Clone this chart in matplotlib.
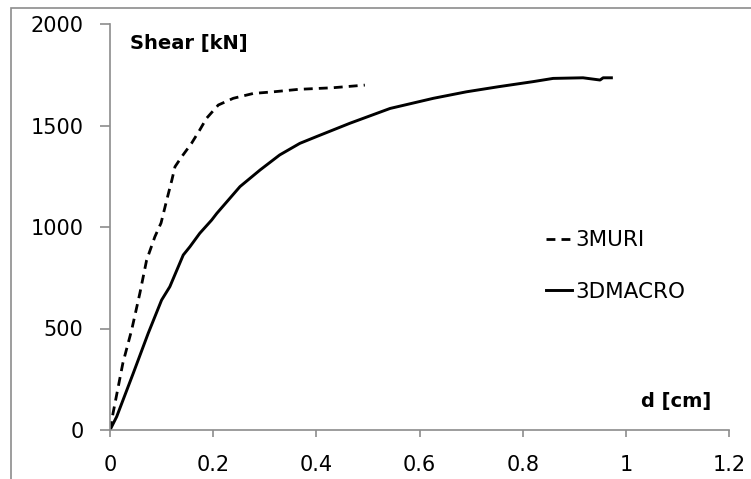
import matplotlib.pyplot as plt
from matplotlib.patches import Rectangle

# 3MURI (dashed)
muri_d = [0, 0.006, 0.025, 0.042, 0.058, 0.071, 0.087, 0.099, 0.11, 0.12, 0.126,
          0.139, 0.158, 0.174, 0.187, 0.21, 0.239, 0.278, 0.317, 0.365, 0.432, 0.494]
muri_v = [0, 84, 330, 493, 675, 837, 952, 1020, 1133, 1232, 1297,
          1346, 1412, 1478, 1535, 1601, 1634, 1658, 1666, 1678, 1686, 1699]

# 3DMACRO (solid)
macro_d = [0, 0.013, 0.045, 0.074, 0.10, 0.116, 0.142, 0.155, 0.174, 0.197, 0.207,
           0.252, 0.291, 0.329, 0.368, 0.40, 0.465, 0.543, 0.627, 0.691, 0.753,
           0.82, 0.859, 0.917, 0.95, 0.956, 0.972]
macro_v = [0, 66, 279, 476, 640, 706, 862, 903, 969, 1034, 1067,
           1199, 1281, 1355, 1412, 1445, 1511, 1584, 1634, 1666, 1691,
           1716, 1732, 1735, 1724, 1735, 1735]

x_ticks = [0, 0.2, 0.4, 0.6, 0.8, 1, 1.2]
x_labels = ['0', '0.2', '0.4', '0.6', '0.8', '1', '1.2']
y_ticks = [0, 500, 1000, 1500, 2000]

plt.rcParams['font.family'] = ['DejaVu Sans']
grey = '#8c8c8c'

fig = plt.figure(figsize=(7.51, 4.79), dpi=100)
# chart area border (cut off at right and bottom)
fig.patches.append(Rectangle((11 / 751, -0.5), 3, 0.5 + (1 - 8 / 479),
                             transform=fig.transFigure, fill=False,
                             edgecolor=grey, linewidth=1.2))
ax = fig.add_axes([110 / 751, 1 - 430 / 479, (729 - 110) / 751, (430 - 24) / 479])

ax.plot(muri_d, muri_v, color='black', linewidth=2.0, linestyle=(0, (3.2, 2.2)),
        label='3MURI')
ax.plot(macro_d, macro_v, color='black', linewidth=2.1, label='3DMACRO')

ax.set_xlim(0, 1.2)
ax.set_ylim(0, 2000)
ax.set_xticks(x_ticks)
ax.set_xticklabels(x_labels)
ax.set_yticks(y_ticks)

for side in ['top', 'right']:
    ax.spines[side].set_visible(False)
for side in ['left', 'bottom']:
    ax.spines[side].set_color(grey)
    ax.spines[side].set_linewidth(1.2)

ax.tick_params(axis='x', direction='out', length=5, width=1.2, color=grey,
               labelsize=15, pad=13)
ax.tick_params(axis='y', direction='out', length=7, width=1.2, color=grey,
               labelsize=15, pad=12)

ax.text(20 / 619, 1 - 20 / 406, 'Shear [kN]', transform=ax.transAxes,
        fontsize=14, fontweight='bold', ha='left', va='center')
ax.text(601 / 619, 28 / 406, 'd [cm]', transform=ax.transAxes,
        fontsize=14, fontweight='bold', ha='right', va='center')

ax.legend(loc='center left', bbox_to_anchor=(436 / 619, (430 - 266) / 406),
          frameon=False, fontsize=15.5, handlelength=1.2, handletextpad=0.15,
          labelspacing=1.45, borderpad=0, borderaxespad=0)

fig.savefig('out.png', dpi=100)
